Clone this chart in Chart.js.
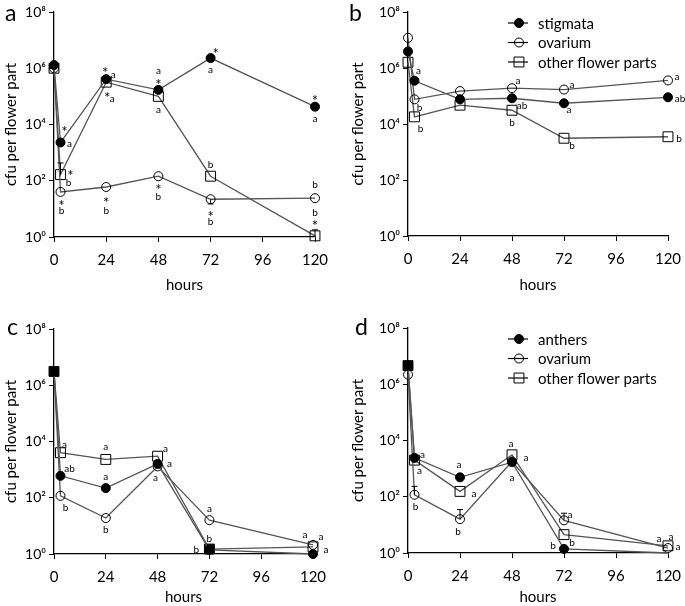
<!DOCTYPE html>
<html>
<head>
<meta charset="utf-8">
<script src="https://cdn.jsdelivr.net/npm/chart.js@4/dist/chart.umd.min.js"></script>
<style>
  body { margin: 0; background: #fff; width: 685px; height: 606px; position: relative; overflow: hidden; }
  canvas { position: absolute; }
  .tag { position: absolute; font-family: Lato, sans-serif; font-size: 23px; color: #000; line-height: 1; }
</style>
</head>
<body>
<canvas id="chartA" width="340" height="300" style="left:0;top:0"></canvas>
<canvas id="chartB" width="345" height="300" style="left:340px;top:0"></canvas>
<canvas id="chartC" width="340" height="306" style="left:0;top:300px"></canvas>
<canvas id="chartD" width="345" height="306" style="left:340px;top:300px"></canvas>
<div class="tag" style="left:5px;top:1px">a</div>
<div class="tag" style="left:349px;top:1px">b</div>
<div class="tag" style="left:7px;top:315px">c</div>
<div class="tag" style="left:355px;top:315px">d</div>
<script>
const FONT = 'Lato, sans-serif';

const hours = [0, 3, 24, 48, 72, 120];
const yTickValues = [1, 1e2, 1e4, 1e6, 1e8];
const yTickLabels = ['10⁰', '10²', '10⁴', '10⁶', '10⁸'];

// a: stigma inoculation
const aStigmata = [1.3e6, 2.3e3, 4.1e5, 1.7e5, 2.3e6, 4.3e4];
const aOvarium  = [1.0e6, 40, 60, 145, 22, 24];
const aOther    = [1.0e6, 165, 3.2e5, 1.0e5, 145, 1.1];
const aOvariumErr = [null, null, null, null, 15, null];
const aOtherErr   = [null, 430, null, null, null, 1.8];

// b
const bStigmata = [3.9e6, 3.5e5, 7.6e4, 8.3e4, 5.5e4, 9.0e4];
const bOvarium  = [1.2e7, 7.6e4, 1.5e5, 1.9e5, 1.7e5, 3.6e5];
const bOther    = [1.6e6, 1.8e4, 4.7e4, 3.1e4, 3.1e3, 3.5e3];

// c: anther inoculation
const cAnthers = [3.1e6, 600, 220, 1.6e3, 1.4, 1.0];
const cOvarium = [3.1e6, 117, 19, 1.3e3, 16, 2.1];
const cOther   = [3.1e6, 4.0e3, 2.3e3, 3.0e3, 1.5, 1.8];

// d
const dAnthers = [4.6e6, 2.4e3, 490, 1.7e3, 1.4, 1.0];
const dOvarium = [2.2e6, 118, 16, 1.8e3, 14.5, 1.5];
const dOther   = [4.6e6, 2.0e3, 155, 3.1e3, 4.5, 1.8];
const dOvariumErr = [null, 234, 35, null, 26, null];

const legendTop = ['stigmata', 'ovarium', 'other flower parts'];
const legendBottom = ['anthers', 'ovarium', 'other flower parts'];

// letters / asterisks next to points: [dataset, point, text, dx, dy]
const notes = {
  chartA: [
    [0,1,'*',4,-14],[0,1,'a',9,1],[0,2,'*',-1,-10],[0,2,'a',7,-4],
    [0,3,'a',0,-19],[0,3,'*',0,-9],[0,4,'*',5,-8],[0,4,'a',0,12],
    [0,5,'*',0,-10],[0,5,'a',0,12],
    [2,2,'*',1,12],[2,2,'a',6,17],[2,3,'a',0,13],[2,1,'*',10,-2],[2,1,'b',8,8],
    [2,4,'b',0,-11],[2,5,'b',0,-23],[2,5,'*',0,-14],
    [1,1,'*',1,10],[1,1,'b',1,19],[1,2,'*',0,12],[1,2,'b',0,24],
    [1,3,'*',0,10],[1,3,'b',0,21],[1,4,'*',0,14],[1,4,'b',0,23],[1,5,'b',0,-13]
  ],
  chartB: [
    [0,1,'a',4,-10],[0,4,'a',5,7],[0,5,'ab',12,2],
    [1,1,'b',5,8],[1,3,'a',6,-7],[1,4,'a',8,-5],[1,5,'a',9,-4],
    [2,1,'b',6,12],[2,3,'ab',10,-4],[2,3,'b',0,13],[2,4,'b',8,8],[2,5,'b',11,2]
  ],
  chartC: [
    [2,1,'a',4,-8],[2,2,'a',0,-13],[2,3,'a',8,-7],
    [0,1,'ab',9,-7],[0,2,'a',0,-11],[0,3,'a',12,0],
    [1,1,'b',5,12],[1,2,'b',0,12],[1,3,'a',-2,11],[1,4,'a',0,-11],[1,5,'a',-8,-10],
    [0,4,'b',-13,0],[2,4,'b',0,-10],[2,5,'a',8,-10],[0,5,'a',13,-4]
  ],
  chartD: [
    [0,1,'a',8,-3],[2,1,'a',5,11],[1,1,'b',1,12],
    [0,2,'a',-1,-13],[2,2,'a',14,2],[1,2,'b',-2,13],
    [2,3,'a',-1,-11],[2,3,'a',14,3],[0,3,'a',0,16],
    [1,4,'a',6,-6],[2,4,'b',8,8],[0,4,'b',-11,-3],
    [1,5,'a',-9,-9],[2,5,'a',3,-9],[0,5,'a',10,-6]
  ]
};

const legends = {
  chartB: { x: 168, y: 23, step: 19.5, names: legendTop },
  chartD: { x: 168, y: 39, step: 19.5, names: legendBottom }
};

const LINE = '#555';
const NONE = 'rgba(0,0,0,0)';

function series(label, data, kind, extra) {
  const base = {
    label, data: data.map((v, i) => ({ x: hours[i], y: v })),
    borderColor: LINE, borderWidth: 1.3, tension: 0,
    pointBorderColor: '#000', pointBorderWidth: 1,
    clip: 10
  };
  if (kind === 'filled') Object.assign(base, { pointStyle: 'circle', pointRadius: 4.5, pointBackgroundColor: '#000' });
  if (kind === 'open') Object.assign(base, { pointStyle: 'circle', pointRadius: 4.5, pointBackgroundColor: NONE });
  if (kind === 'square') Object.assign(base, { pointStyle: 'rect', pointRadius: 7, pointBackgroundColor: NONE });
  return Object.assign(base, extra || {});
}

const notesPlugin = {
  id: 'notes',
  afterDatasetsDraw(chart) {
    const ctx = chart.ctx;
    const xs = chart.scales.x, ys = chart.scales.y;
    ctx.save();
    ctx.fillStyle = '#000';
    ctx.textAlign = 'center';
    ctx.textBaseline = 'middle';
    // error bars
    chart.data.datasets.forEach(ds => {
      if (!ds.errorEnds) return;
      ds.errorEnds.forEach((e, i) => {
        if (e == null) return;
        const x = xs.getPixelForValue(hours[i]);
        const y0 = ys.getPixelForValue(ds.data[i].y);
        const y1 = ys.getPixelForValue(e);
        ctx.strokeStyle = '#000';
        ctx.lineWidth = 1;
        ctx.beginPath();
        ctx.moveTo(x, y0); ctx.lineTo(x, y1);
        ctx.moveTo(x - 3, y1); ctx.lineTo(x + 3, y1);
        ctx.stroke();
      });
    });
    (notes[chart.canvas.id] || []).forEach(([d, i, t, dx, dy]) => {
      const ds = chart.data.datasets[d];
      const x = xs.getPixelForValue(hours[i]) + dx;
      let y = ys.getPixelForValue(ds.data[i].y) + dy;
      if (t === '*') { ctx.font = '15px ' + FONT; y += 4; }
      else ctx.font = '10px ' + FONT;
      ctx.fillText(t, x, y);
    });
    // legend with the line running through the marker
    const lg = legends[chart.canvas.id];
    if (lg) {
      chart.data.datasets.forEach((ds, k) => {
        const y = lg.y + k * lg.step;
        const r = Array.isArray(ds.pointRadius) ? ds.pointRadius[0] : ds.pointRadius;
        ctx.strokeStyle = '#000';
        ctx.lineWidth = 1.2;
        ctx.beginPath();
        ctx.moveTo(lg.x, y); ctx.lineTo(lg.x + 20, y);
        ctx.stroke();
        ctx.lineWidth = 1;
        ctx.fillStyle = k === 0 ? '#000' : NONE;
        Chart.helpers.drawPoint(ctx, {
          pointStyle: ds.pointStyle, radius: r, borderWidth: 1, rotation: 0
        }, lg.x + 11, y);
        ctx.fillStyle = '#000';
        ctx.textAlign = 'left';
        ctx.font = '15px ' + FONT;
        ctx.fillText(lg.names[k], lg.x + 30, y + 1);
      });
    }
    ctx.restore();
  }
};

function makePanel(id, datasets, area, titlePad, hoursPad) {
  const canvas = document.getElementById(id);
  const W = canvas.width, H = canvas.height;
  return new Chart(canvas, {
    type: 'line',
    data: { datasets },
    options: {
      responsive: false,
      animation: false,
      layout: { padding: { left: 0, top: area.top, right: W - area.right, bottom: 0 } },
      plugins: { legend: { display: false }, tooltip: { enabled: false } },
      scales: {
        x: {
          type: 'linear', min: 0, max: 120,
          ticks: { stepSize: 24, color: '#000', font: { family: FONT, size: 15 }, padding: 9 },
          grid: { drawOnChartArea: false, tickLength: 5, color: '#000' },
          border: { color: '#000', width: 1.3 },
          title: { display: true, text: 'hours', color: '#000', font: { family: FONT, size: 15 }, padding: { top: 4, bottom: hoursPad } },
          afterFit: s => { s.height = H - area.bottom; s.paddingLeft = 0; s.paddingRight = 0; }
        },
        y: {
          type: 'logarithmic', min: 1, max: 1e8,
          afterBuildTicks: s => { s.ticks = yTickValues.map(v => ({ value: v })); },
          ticks: {
            color: '#000', font: { family: FONT, size: 14 }, padding: 3,
            callback: v => yTickLabels[Math.round(Math.log10(v) / 2)]
          },
          grid: { drawOnChartArea: false, tickLength: 5, color: '#000' },
          border: { color: '#000', width: 1.3 },
          title: { display: true, text: 'cfu per flower part', color: '#000', font: { family: FONT, size: 15 }, padding: { top: titlePad, bottom: 0 } },
          afterFit: s => { s.width = area.left; }
        }
      }
    },
    plugins: [notesPlugin]
  });
}

makePanel('chartA', [
  series('stigmata', aStigmata, 'filled'),
  series('ovarium', aOvarium, 'open', { errorEnds: aOvariumErr }),
  series('other flower parts', aOther, 'square', { errorEnds: aOtherErr })
], { left: 54, right: 315, top: 12, bottom: 237 }, 2, 6);

makePanel('chartB', [
  series('stigmata', bStigmata, 'filled'),
  series('ovarium', bOvarium, 'open'),
  series('other flower parts', bOther, 'square')
], { left: 68, right: 328, top: 12, bottom: 236 }, 9, 6);

makePanel('chartC', [
  series('anthers', cAnthers, 'filled'),
  series('ovarium', cOvarium, 'open'),
  series('other flower parts', cOther, 'square', { pointBackgroundColor: ['#000', NONE, NONE, NONE, '#000', NONE] })
], { left: 54, right: 313, top: 29, bottom: 254 }, 2, 0);

makePanel('chartD', [
  series('anthers', dAnthers, 'filled', { pointRadius: [4.5, 4.5, 4.5, 4.5, 4.5, 0] }),
  series('ovarium', dOvarium, 'open', { errorEnds: dOvariumErr }),
  series('other flower parts', dOther, 'square', { pointBackgroundColor: ['#000', NONE, NONE, NONE, NONE, NONE] })
], { left: 68, right: 328, top: 28, bottom: 253 }, 9, 0);
</script>
</body>
</html>
